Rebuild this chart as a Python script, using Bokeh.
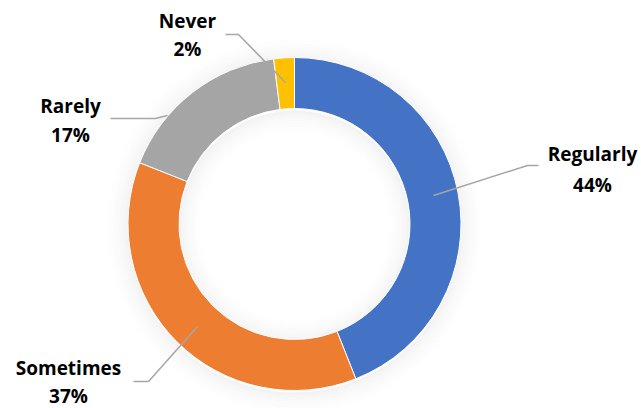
import math
from bokeh.plotting import figure
from bokeh.models import Range1d, ColumnDataSource
from bokeh.core.properties import value
from bokeh.embed import file_html
from bokeh.resources import INLINE

# ---- data ----
categories = ["Regularly", "Sometimes", "Rarely", "Never"]
percents = [44, 37, 17, 2]
colors = ["#4472C4", "#ED7D31", "#A5A5A5", "#FFC000"]

# ---- layout (pixel positions, image coords y downward) ----
W, H = 641, 408
CX, CY = 294, 223.5
R_OUT, R_IN = 166.5, 115.5
label_pos = {
    "Regularly": (592, 153, 184),
    "Sometimes": (68, 367, 395),
    "Rarely": (70, 105, 134),
    "Never": (187, 20, 48),
}
leaders = {
    "Regularly": [(433, 195), (527, 165), (538, 165)],
    "Sometimes": [(197, 326), (148, 381), (133, 381)],
    "Rarely": [(167, 115), (155, 118), (110, 118)],
    "Never": [(285, 82), (238, 34), (225, 34)],
}

def fy(y):
    return H - y

p = figure(width=W, height=H, output_backend="svg", toolbar_location=None,
           x_range=Range1d(0, W), y_range=Range1d(0, H), min_border=0)
p.axis.visible = False
p.grid.visible = False
p.outline_line_color = None
p.background_fill_color = "white"
p.border_fill_color = "white"

# soft glow/shadow around ring
n = 16
for i in range(n):
    a = 0.05 * (1 - i / n) ** 1.5
    p.annulus(x=CX, y=fy(CY) - 2, inner_radius=R_OUT + i * 1.5, outer_radius=R_OUT + (i + 1) * 1.5,
              fill_color="black", fill_alpha=a, line_color=None)
    p.annulus(x=CX, y=fy(CY) - 2, inner_radius=R_IN - (i + 1) * 1.5, outer_radius=R_IN - i * 1.5,
              fill_color="black", fill_alpha=a, line_color=None)

total = sum(percents)
starts, ends = [], []
cum = 0
for v in percents:
    starts.append(math.pi / 2 - 2 * math.pi * cum / total)
    cum += v
    ends.append(math.pi / 2 - 2 * math.pi * cum / total)

src = ColumnDataSource(dict(start=starts, end=ends, color=colors, cat=categories))
p.annular_wedge(x=CX, y=fy(CY), inner_radius=R_IN, outer_radius=R_OUT,
                start_angle="start", end_angle="end", direction="clock",
                fill_color="color", line_color="white", line_width=1, source=src)

for cat in categories:
    pts = leaders[cat]
    p.line(x=[q[0] for q in pts], y=[fy(q[1]) for q in pts], line_color="#A6A6A6", line_width=1.5)

lx, ly, lt = [], [], []
for cat, v in zip(categories, percents):
    x, y1, y2 = label_pos[cat]
    lx += [x, x]
    ly += [fy(y1), fy(y2)]
    lt += [cat, f"{v}%"]
p.text(x=lx, y=ly, text=lt, text_align="center", text_baseline="middle",
       text_font=value("Open Sans"), text_font_style="bold", text_font_size="19px",
       text_color="#000000")

open("out.html", "w").write(file_html(p, INLINE))
